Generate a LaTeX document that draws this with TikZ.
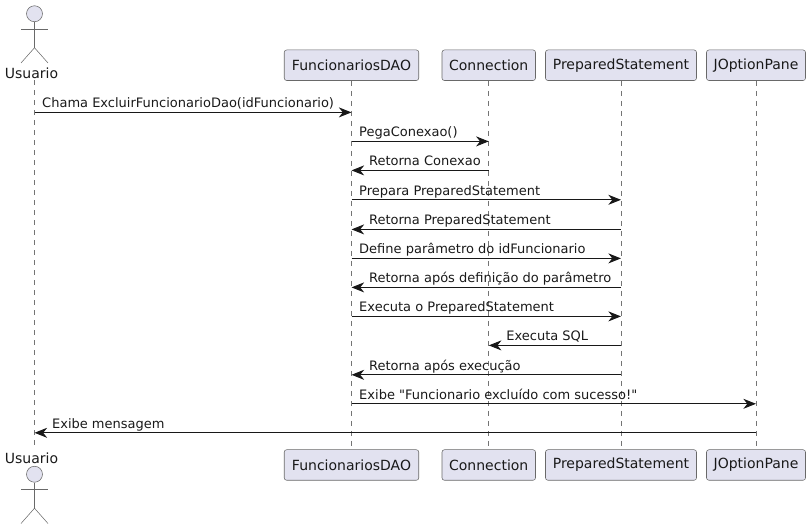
\documentclass[tikz,border=0pt]{standalone}
\usepackage{fontspec}
\setmainfont{DejaVu Sans}[Ligatures=TeXOff]
\usetikzlibrary{arrows.meta}
\definecolor{umlfill}{HTML}{E2E2F0}
\definecolor{umlline}{HTML}{181818}

\begin{document}
\begin{tikzpicture}[x=0.75pt,y=-0.75pt,
  part/.style={rectangle,draw=umlline!65,fill=umlfill,line width=0.4pt,rounded corners=1.8pt,minimum height=22.9pt,inner sep=0pt,font=\fontsize{10.5}{12}\selectfont,text=black!90},
  actorlabel/.style={inner sep=0pt,font=\fontsize{10.5}{12}\selectfont,text=black!90},
  head/.style={circle,draw=umlline!65,fill=umlfill,line width=0.4pt,minimum size=12pt,inner sep=0pt},
  limb/.style={draw=umlline!65,line width=0.4pt},
  life/.style={draw=umlline!60,line width=0.4pt,dash pattern=on 3.75pt off 3.75pt},
  msg/.style={draw=umlline,line width=0.75pt,-{Stealth[length=9.5pt,width=7.5pt,inset=3pt]}},
  msgtext/.style={anchor=base west,inner sep=0pt,font=\fontsize{9.75}{12}\selectfont,text=black!90}]
\useasboundingbox (0,0) rectangle (810,530);
% participants, top and bottom row
\foreach \n/\x/\w/\1 in %
{dao/351.5/134.5/FuncionariosDAO,conn/488.75/93.5/Connection,prep/621/151/PreparedStatement,pane/756/99/JOptionPane} {
   \node[part,minimum width=\w*0.75pt] (\n Top) at (\x,65.25) {\1};
   \node[part,minimum width=\w*0.75pt] (\n Bot) at (\x,465) {\1};
   \draw[life] (\n Top.south) -- (\n Bot.north);
}
% actor, top and bottom
\node[head] (userHeadTop) at (34.5,13.75) {};
\node[head] (userHeadBot) at (34.5,474.25) {};
\node[actorlabel] (userTop) at (31.5,73) {Usuario};
\node[actorlabel] (userBot) at (31.5,458) {Usuario};
\foreach \p/\y in {Top/21.75,Bot/482.25} {
   \coordinate (hip\p) at (34.5,\y+26);
   \draw[limb] (userHead\p.south) -- (hip\p);
   \draw[limb] (21,\y+7.25) -- (48,\y+7.25);
   \draw[limb] (21,\y+41.25) -- (hip\p) -- (48,\y+41.25);
}
\coordinate (userLifeTop) at (34.5,80.5);
\coordinate (userLifeBot) at (34.5,449.5);
\draw[life] (userLifeTop) -- (userLifeBot);
% messages going right
\foreach \y/\a/\b/\1 [count=\i] in %
{112.4/userLife/dao/Chama ExcluirFuncionarioDao(idFuncionario),141.4/dao/conn/PegaConexao(),199.8/dao/prep/Prepara PreparedStatement,258.4/dao/prep/Define parâmetro do idFuncionario,316.4/dao/prep/Executa o PreparedStatement,403.8/dao/pane/Exibe "Funcionario excluído com sucesso!"} {
   \coordinate (goFrom\i) at (\a Top |- 0,\y);
   \coordinate (goTo\i) at (\b Top |- 0,\y);
   \draw[msg] (goFrom\i) -- (goTo\i);
   \node[msgtext] (goText\i) at ([xshift=5.6pt,yshift=3.4pt]goFrom\i) {\1};
}
% messages going left
\foreach \y/\a/\b/\1 [count=\i] in %
{170.4/conn/dao/Retorna Conexao,229.4/prep/dao/Retorna PreparedStatement,287.4/prep/dao/Retorna após definição do parâmetro,345.4/prep/conn/Executa SQL,374.8/prep/dao/Retorna após execução,432.8/pane/userLife/Exibe mensagem} {
   \coordinate (backFrom\i) at (\a Top |- 0,\y);
   \coordinate (backTo\i) at (\b Top |- 0,\y);
   \draw[msg] (backFrom\i) -- (backTo\i);
   \node[msgtext] (backText\i) at ([xshift=13pt,yshift=3.4pt]backTo\i) {\1};
}
\end{tikzpicture}
\end{document}
